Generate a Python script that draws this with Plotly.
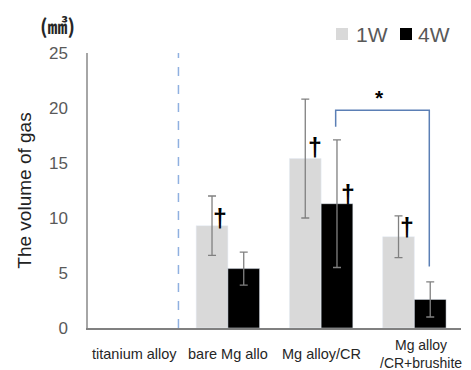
import plotly.graph_objects as go

categories = ["titanium alloy", "bare Mg allo", "Mg alloy/CR", "Mg alloy<br>/CR+brushite"]
series_names = ["1W", "4W"]
series_colors = ["#d9d9d9", "#000000"]
w1_values = [None, 9.3, 15.4, 8.3]
w1_errors = [None, 2.7, 5.4, 1.9]
w4_values = [None, 5.4, 11.3, 2.6]
w4_errors = [None, 1.5, 5.8, 1.6]
y_ticks = [0, 5, 10, 15, 20, 25]

# dagger marks: (x, y) in data units
dagger_x = [0.915, 1.934, 2.285, 2.918]
dagger_y = [10.0, 16.5, 12.2, 9.2]

idx = list(range(len(categories)))

L, R, T, B, W, H = 88, 10, 53, 42, 471, 370
PW, PH = W - L - R, H - T - B


def px(x):
    return (x - L) / PW


def py(y):
    return (H - B - y) / PH


fig = go.Figure()
for name, color, vals, errs in zip(series_names, series_colors, [w1_values, w4_values], [w1_errors, w4_errors]):
    fig.add_trace(go.Bar(
        x=idx, y=vals, name=name, marker_color=color,
        error_y=dict(type="data", array=errs, color="#808080", thickness=1.3, width=4),
    ))

fig.update_layout(
    width=W, height=H,
    margin=dict(l=L, r=R, t=T, b=B, autoexpand=False),
    paper_bgcolor="white", plot_bgcolor="white",
    barmode="group", bargap=0.32, bargroupgap=0,
    font=dict(family="Liberation Sans, Arial", color="#595959"),
    showlegend=False,
    xaxis=dict(range=[-0.5, 3.5], showticklabels=False, ticks="", showline=True,
               linecolor="#808080", linewidth=1.5, showgrid=False, zeroline=False),
    yaxis=dict(range=[0, 25], tickvals=y_ticks, showline=True, linecolor="#a6a6a6", linewidth=1.5,
               showgrid=False, zeroline=False, ticks="", ticklabelstandoff=15,
               tickfont=dict(size=17, color="#595959"),
               title=dict(text="The volume of gas", font=dict(size=19, color="#222222"), standoff=12)),
)

# manual legend
legend_sq_x = [336, 400]
legend_tx_x = [354, 416]
for name, color, sx, tx in zip(series_names, series_colors, legend_sq_x, legend_tx_x):
    fig.add_shape(type="rect", xref="paper", yref="paper",
                  x0=px(sx), x1=px(sx + 12), y0=py(40), y1=py(28),
                  fillcolor=color, line=dict(width=0))
    fig.add_annotation(x=px(tx), y=py(34), xref="paper", yref="paper", text=name, showarrow=False,
                       font=dict(size=21, color="#595959"), xanchor="left", yanchor="middle")

for i, c in enumerate(categories):
    fig.add_annotation(x=i, y=0, xref="x", yref="paper", yshift=-26,
                       text=c, showarrow=False,
                       font=dict(size=14.5 if i < 3 else 14, color="#262626", family="Liberation Sans, Arial"),
                       yanchor="middle", xanchor="center",
                       xshift=7 if i == 3 else 0)

# unit label
fig.add_annotation(x=px(57), y=py(25), xref="paper", yref="paper",
                   text="<b>(㎣)</b>", showarrow=False,
                   font=dict(size=20, color="#262626", family="Noto Sans CJK JP"),
                   xanchor="center", yanchor="middle")

# daggers
for dx, dy in zip(dagger_x, dagger_y):
    fig.add_annotation(x=dx, y=dy, xref="x", yref="y", text="<b>†</b>", showarrow=False,
                       font=dict(size=25, color="#000000"), yanchor="middle", xanchor="center")

# significance bracket
fig.add_shape(type="path", xref="x", yref="y",
              path="M 2.156 18.3 L 2.156 19.8 L 3.16 19.8 L 3.16 5.6",
              line=dict(color="#5b7fb5", width=1.5))
fig.add_annotation(x=2.63, y=21.0, xref="x", yref="y", text="<b>*</b>", showarrow=False,
                   font=dict(size=21, color="#000000"), yanchor="middle", xanchor="center")

# dashed separator
fig.add_shape(type="line", xref="x", yref="y", x0=0.47, x1=0.47, y0=0, y1=25,
              line=dict(color="#8fb0e0", width=1.5, dash="dash"))

fig.write_html("out.html")
